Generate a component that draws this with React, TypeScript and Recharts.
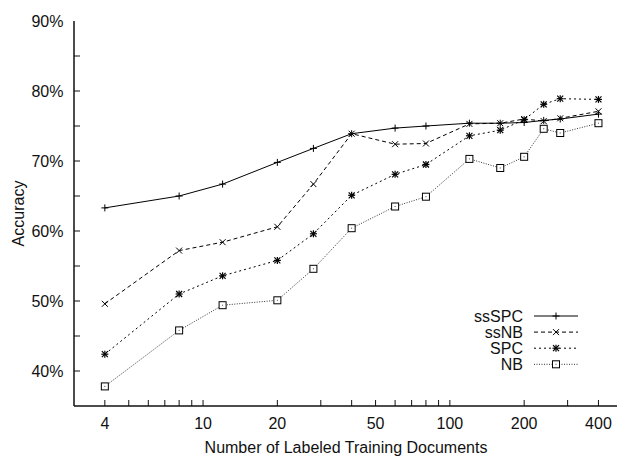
import { LineChart, Line, XAxis, YAxis, Legend } from 'recharts';

// number of labeled training documents (log axis)
const docs = [4, 8, 12, 20, 28, 40, 60, 80, 120, 160, 200, 240, 280, 400];

// accuracy in %
const ssSPC = [63.3, 65.0, 66.7, 69.8, 71.8, 73.9, 74.7, 75.0, 75.4, 75.4, 75.5, 75.8, 76.0, 76.7];
const ssNB = [49.6, 57.2, 58.4, 60.6, 66.7, 73.9, 72.4, 72.5, 75.3, 75.4, 76.0, 75.7, 76.1, 77.1];
const SPC = [42.4, 51.0, 53.6, 55.8, 59.6, 65.1, 68.1, 69.5, 73.6, 74.4, 75.9, 78.1, 78.9, 78.8];
const NB = [37.8, 45.8, 49.4, 50.1, 54.6, 60.4, 63.5, 64.9, 70.3, 69.0, 70.6, 74.6, 74.0, 75.4];

const xTicks = [4, 5, 6, 7, 8, 9, 10, 20, 30, 40, 50, 60, 70, 80, 90, 100, 200, 300, 400];
const xLabels = [4, 10, 20, 50, 100, 200, 400];
const yTicks = [40, 45, 50, 55, 60, 65, 70, 75, 80, 85, 90];
const yLabels = [40, 50, 60, 70, 80, 90];

const data = docs.map((d, i) => ({
  docs: d,
  ssSPC: ssSPC[i],
  ssNB: ssNB[i],
  SPC: SPC[i],
  NB: NB[i],
}));

const FONT = '"Liberation Sans", Arial, Helvetica, sans-serif';
const INK = '#111';
const TICK = 6;

type Shape = 'plus' | 'cross' | 'star' | 'box';

const series: { key: string; dash?: string; shape: Shape; color: string }[] = [
  { key: 'ssSPC', shape: 'plus', color: '#000' },
  { key: 'ssNB', dash: '4 3', shape: 'cross', color: '#000' },
  { key: 'SPC', dash: '2 3', shape: 'star', color: '#000' },
  { key: 'NB', dash: '1 1.5', shape: 'box', color: '#333' },
];

function Marker({ cx, cy, shape }: { cx: number; cy: number; shape: Shape }) {
  if (cx == null || cy == null) return null;
  const r = 3.5;
  const c = 3;
  const common = { stroke: '#000', strokeWidth: 1, strokeDasharray: 'none' };
  if (shape === 'plus') {
    return (
      <g {...common}>
        <line x1={cx - r} x2={cx + r} y1={cy} y2={cy} />
        <line x1={cx} x2={cx} y1={cy - r} y2={cy + r} />
      </g>
    );
  }
  if (shape === 'cross') {
    return (
      <g {...common}>
        <line x1={cx - c} x2={cx + c} y1={cy - c} y2={cy + c} />
        <line x1={cx - c} x2={cx + c} y1={cy + c} y2={cy - c} />
      </g>
    );
  }
  if (shape === 'star') {
    return (
      <g {...common} strokeWidth={1.2}>
        <line x1={cx - r} x2={cx + r} y1={cy} y2={cy} />
        <line x1={cx} x2={cx} y1={cy - r} y2={cy + r} />
        <line x1={cx - c} x2={cx + c} y1={cy - c} y2={cy + c} />
        <line x1={cx - c} x2={cx + c} y1={cy + c} y2={cy - c} />
      </g>
    );
  }
  return (
    <g>
      <rect x={cx - r} y={cy - r} width={2 * r} height={2 * r} fill="#fff" {...common} />
      <rect x={cx - 0.5} y={cy - 0.5} width={1} height={1} fill="#444" />
    </g>
  );
}

const labelStyle = { fontFamily: FONT, fontSize: 16, fill: INK };

const BottomTick = (p: any) => {
  const v = p.payload.value;
  return (
    <g>
      <line x1={p.x} x2={p.x} y1={p.y} y2={p.y - TICK} stroke={INK} />
      {xLabels.includes(v) && (
        <text x={p.x} y={p.y + 22.7} textAnchor="middle" style={labelStyle}>
          {v}
        </text>
      )}
    </g>
  );
};

const TopTick = (p: any) => (
  <line x1={p.x} x2={p.x} y1={p.y} y2={p.y + TICK} stroke={INK} />
);

const LeftTick = (p: any) => {
  const v = p.payload.value;
  return (
    <g>
      {v < 90 && <line x1={p.x} x2={p.x + TICK} y1={p.y} y2={p.y} stroke={INK} />}
      {yLabels.includes(v) && (
        <text x={p.x - 10.5} y={p.y + 6} textAnchor="end" style={labelStyle}>
          {v}%
        </text>
      )}
    </g>
  );
};

const RightTick = (p: any) => (
  <line x1={p.x} x2={p.x - TICK} y1={p.y} y2={p.y} stroke={INK} />
);

const order = (k: string) => series.findIndex((s) => s.key === k);

const renderLegend = (props: any) => {
  const rows = [...(props.payload ?? [])].sort((a: any, b: any) => order(a.dataKey) - order(b.dataKey));
  return (
    <svg width={130} height={70} style={{ display: 'block', overflow: 'visible' }}>
      {rows.map((entry: any, i: number) => {
        const s = series.find((x) => x.key === entry.dataKey) ?? series[0];
        const y = 8 + i * 16.1;
        return (
          <g key={s.key}>
            <text x={53} y={y + 5.7} textAnchor="end" style={labelStyle}>
              {entry.value}
            </text>
            <line x1={64} x2={108} y1={y} y2={y} stroke={s.color} strokeDasharray={s.dash} />
            <Marker cx={86} cy={y} shape={s.shape} />
          </g>
        );
      })}
    </svg>
  );
};

export default function App() {
  return (
    <div
      style={{
        position: 'absolute',
        left: 0,
        top: 0,
        width: 617,
        height: 456,
        overflow: 'hidden',
        background: '#fff',
      }}
    >
      <LineChart width={630} height={456} data={data} margin={{ top: 21, right: 12, bottom: 0, left: 0 }}>
        <XAxis
          dataKey="docs"
          type="number"
          scale="log"
          domain={[3, 480]}
          allowDataOverflow
          ticks={xTicks}
          interval={0}
          height={50}
          tickSize={0}
          tickMargin={0}
          tickLine={false}
          tick={BottomTick}
          axisLine={{ stroke: INK, strokeWidth: 1.5 }}
          label={(p: any) => {
            const vb = p.viewBox;
            return (
              <text x={vb.x + vb.width / 2} y={452.5} textAnchor="middle" style={labelStyle}>
                Number of Labeled Training Documents
              </text>
            );
          }}
        />
        <XAxis
          xAxisId="top"
          orientation="top"
          dataKey="docs"
          type="number"
          scale="log"
          domain={[3, 480]}
          allowDataOverflow
          ticks={xTicks}
          interval={0}
          height={0}
          tickSize={0}
          tickMargin={0}
          tickLine={false}
          tick={TopTick}
          axisLine={{ stroke: INK, strokeWidth: 1.5 }}
        />
        <YAxis
          type="number"
          domain={[35, 90]}
          allowDataOverflow
          ticks={yTicks}
          interval={0}
          width={74}
          tickSize={0}
          tickMargin={0}
          tickLine={false}
          tick={LeftTick}
          axisLine={{ stroke: INK, strokeWidth: 1.5 }}
          label={(p: any) => {
            const vb = p.viewBox;
            const cy = vb.y + vb.height / 2;
            return (
              <text
                x={24}
                y={cy}
                textAnchor="middle"
                transform={`rotate(-90 24 ${cy})`}
                style={labelStyle}
              >
                Accuracy
              </text>
            );
          }}
        />
        <YAxis
          yAxisId="right"
          orientation="right"
          type="number"
          domain={[35, 90]}
          allowDataOverflow
          ticks={yTicks}
          interval={0}
          width={0}
          tickSize={0}
          tickMargin={0}
          tickLine={false}
          tick={RightTick}
          axisLine={{ stroke: INK, strokeWidth: 1.5 }}
        />
        <Legend
          layout="vertical"
          align="center"
          verticalAlign="middle"
          content={renderLegend}
          wrapperStyle={{ left: 470, top: 307.7, width: 130, height: 70 }}
        />
        {series.map((s) => (
          <Line
            key={s.key}
            dataKey={s.key}
            name={s.key}
            type="linear"
            stroke={s.color}
            strokeWidth={1}
            strokeDasharray={s.dash}
            isAnimationActive={false}
            activeDot={false}
            dot={(p: any) => <Marker key={`${s.key}-${p.index}`} cx={p.cx} cy={p.cy} shape={s.shape} />}
          />
        ))}
      </LineChart>
    </div>
  );
}
